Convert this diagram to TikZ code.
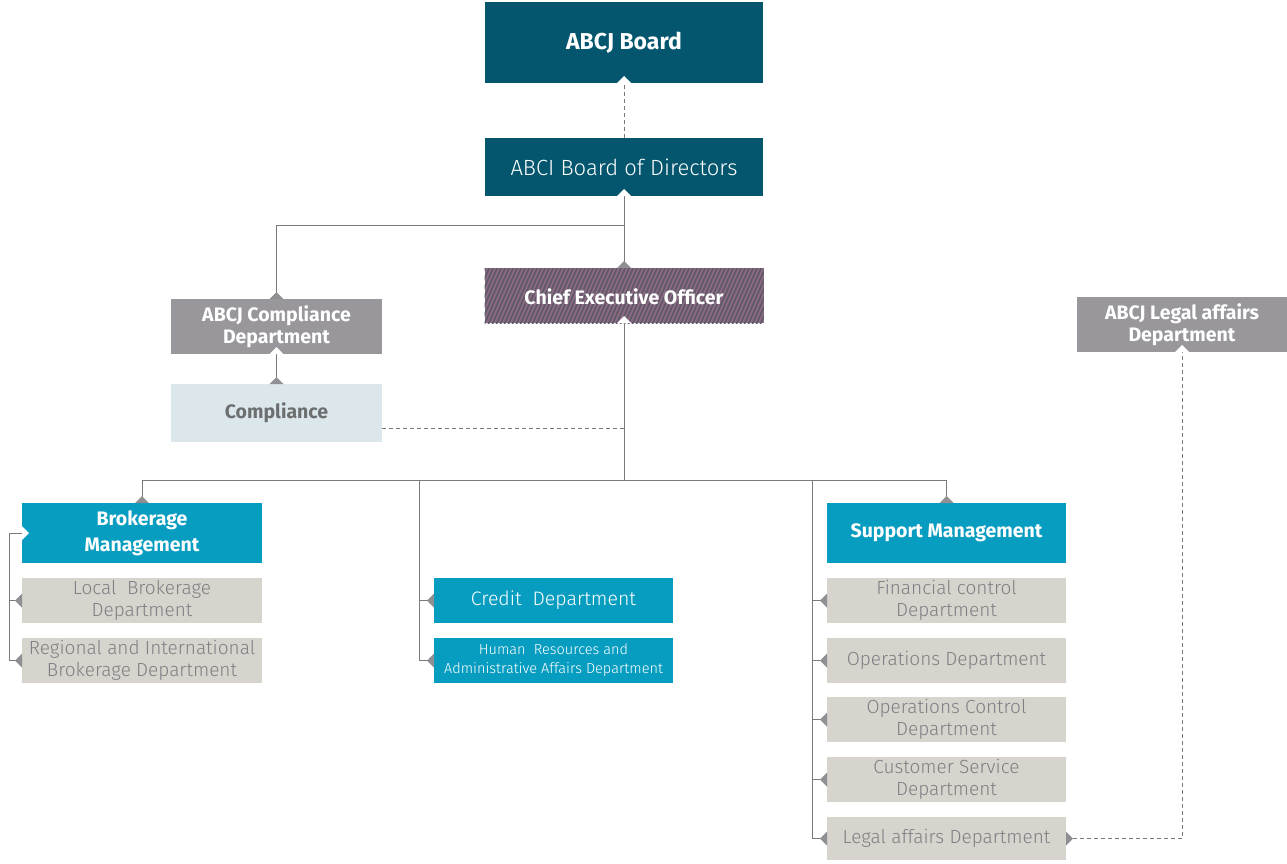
\documentclass[tikz,border=0pt]{standalone}
\usepackage{fontspec}
\setmainfont{Fira Sans}
\newfontfamily\lightfont{Fira Sans Light}
\usetikzlibrary{calc}
\definecolor{darkteal}{HTML}{04566F}
\definecolor{cyanbox}{HTML}{079DC0}
\definecolor{graybox}{HTML}{99979C}
\definecolor{beige}{HTML}{D7D3CD}
\definecolor{lightblue}{HTML}{DCE7EB}
\definecolor{linegray}{HTML}{7A7A7A}
\definecolor{trigray}{HTML}{8F8F94}
\definecolor{graytext}{HTML}{807F84}
\definecolor{comptext}{HTML}{6D6E70}
\definecolor{ceopurple}{HTML}{8E6A88}
\definecolor{ceostripe}{HTML}{5E5A63}
\tikzset{
  box/.style={inner sep=0pt, outer sep=0pt, align=center, text=white},
  boldtxt/.style={font=\fontsize{19.5}{21.5}\selectfont\bfseries},
  lighttxt/.style={font=\fontsize{19}{22}\selectfont\lightfont},
  conn/.style={draw=linegray, line width=1pt},
  dconn/.style={draw=linegray, line width=1pt, dash pattern=on 4pt off 3pt},
  trig/.style={fill=trigray},
  triw/.style={fill=white},
}
\begin{document}
\begin{tikzpicture}[x=1pt,y=-1pt]
\useasboundingbox (0,0) rectangle (1287,863);
% top
\node[box, fill=darkteal, minimum width=278, minimum height=81, font=\fontsize{23}{27}\selectfont\bfseries] (board) at (624,42.5) {ABCJ Board};
\node[box, fill=darkteal, minimum width=278, minimum height=58, font=\fontsize{22}{26}\selectfont\lightfont] (bod) at (624,167) {ABCI Board of Directors};
% CEO hatched
\node[box, fill=ceopurple, minimum width=279, minimum height=55] (ceo) at (624,295.5) {};
\begin{scope}
\clip (ceo.south west) rectangle (ceo.north east);
\foreach \x in {440,444,...,780} \draw[ceostripe, line width=1.7pt] (\x,325) -- (\x+26,266);
\end{scope}
\node[box, boldtxt] (ceotext) at ([yshift=-1pt]ceo.center) {Chief Executive Officer};
% compliance
\node[box, boldtxt, fill=graybox, minimum width=211, minimum height=55] (cdept) at (276.5,326.5) {ABCJ Compliance\\Department};
\node[box, boldtxt, fill=lightblue, text=comptext, minimum width=211, minimum height=58] (comp) at (276.5,413) {Compliance};
\node[box, boldtxt, fill=graybox, minimum width=210, minimum height=55] (legal2) at (1182,324.5) {ABCJ Legal affairs\\Department};
% left column
\node[box, fill=cyanbox, minimum width=240, minimum height=60, font=\fontsize{19.5}{26}\selectfont\bfseries] (brok) at (142,533) {Brokerage\\Management};
\node[box, lighttxt, fill=beige, text=graytext, minimum width=240, minimum height=45] (local) at (142,600.5) {Local~ Brokerage\\Department};
\node[box, lighttxt, fill=beige, text=graytext, minimum width=240, minimum height=45] (regional) at (142,660.5) {Regional and International\\Brokerage Department};
% middle column
\node[box, fill=cyanbox, minimum width=239, minimum height=45, font=\fontsize{19.5}{22}\selectfont\lightfont] (credit) at (553.5,600.5) {Credit~ Department};
\node[box, fill=cyanbox, minimum width=239, minimum height=45, font=\fontsize{14.5}{19}\selectfont\lightfont] (hr) at (553.5,660.5) {Human~ Resources and\\Administrative Affairs Department};
% right column
\node[box, boldtxt, fill=cyanbox, minimum width=239, minimum height=60] (support) at (946.5,533) {Support Management};
\node[box, lighttxt, fill=beige, text=graytext, minimum width=239, minimum height=45] (fin) at (946.5,600.5) {Financial control\\Department};
\node[box, lighttxt, fill=beige, text=graytext, minimum width=239, minimum height=45] (ops) at (946.5,660.5) {Operations Department};
\node[box, lighttxt, fill=beige, text=graytext, minimum width=239, minimum height=45] (opsc) at (946.5,719.5) {Operations Control\\Department};
\node[box, lighttxt, fill=beige, text=graytext, minimum width=239, minimum height=45] (cust) at (946.5,779.5) {Customer Service\\Department};
\node[box, lighttxt, fill=beige, text=graytext, minimum width=239, minimum height=43] (legal) at (946.5,838.5) {Legal affairs Department};
% junction coordinates
\coordinate (j1) at (624,225);
\coordinate (j2) at (624,428);
\coordinate (j3) at (624,480);
\coordinate (m1) at (419,480);
\coordinate (m2) at (812,480);
\coordinate (lb) at (9,533);
% connectors
\draw[dconn] (bod.north) -- (board.south);
\draw[conn] (bod.south) -- (ceo.north);
\draw[conn] (j1) -| (cdept.north);
\draw[conn] (cdept.south) -- (comp.north);
\draw[dconn] ([yshift=-15pt]comp.east) -- (j2);
\draw[conn] (ceo.south) -- (j3);
\draw[conn] (brok.north) -- (brok.north |- j3) -- (support.north |- j3) -- (support.north);
\draw[conn] (m1) |- (credit.west);
\draw[conn] (m1) |- (hr.west);
\draw[conn] (m2) |- (fin.west);
\draw[conn] (m2) |- (ops.west);
\draw[conn] (m2) |- (opsc.west);
\draw[conn] (m2) |- (cust.west);
\draw[conn] (m2) |- (legal.west);
\draw[conn] (brok.west) -- (lb) |- (local.west);
\draw[conn] (lb) |- (regional.west);
\draw[dconn] ([xshift=7pt]legal.east) -| (legal2.south);
% white notches
\foreach \n in {board,bod,ceo,cdept,legal2}
  \fill[triw] (\n.south) +(-7,0) -- +(7,0) -- +(0,-7) -- cycle;
\fill[triw] (brok.west) +(0,-7) -- +(0,7) -- +(7,0) -- cycle;
% gray tabs
\foreach \n in {cdept,ceo,comp,brok,support}
  \fill[trig] (\n.north) +(-7,0) -- +(7,0) -- +(0,-7) -- cycle;
\foreach \n in {local,regional,credit,hr,fin,ops,opsc,cust,legal}
  \fill[trig] (\n.west) +(0,-7) -- +(0,7) -- +(-7,0) -- cycle;
\fill[trig] (legal.east) +(0,-7) -- +(0,7) -- +(7,0) -- cycle;
\end{tikzpicture}
\end{document}
